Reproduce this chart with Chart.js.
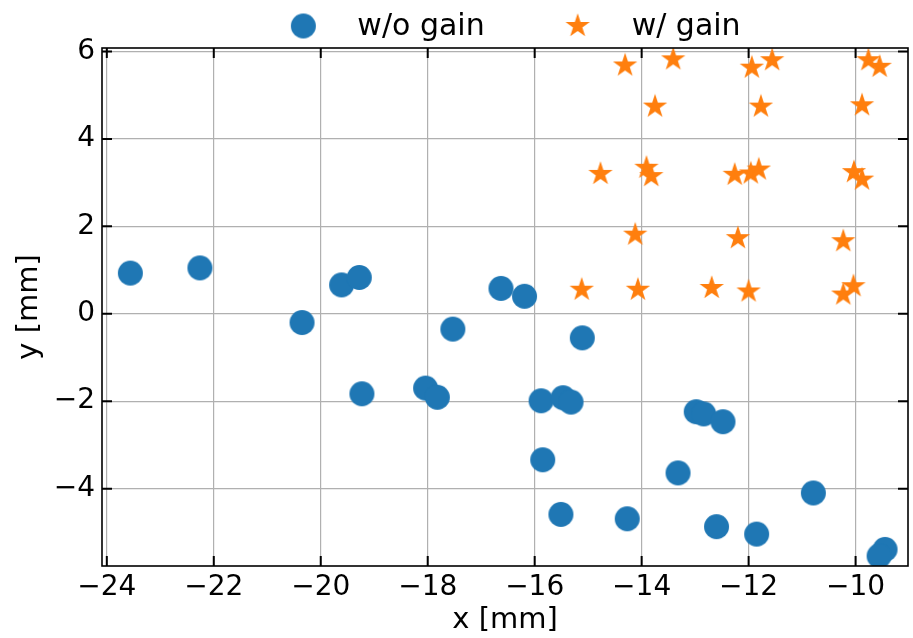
<!DOCTYPE html>
<html>
<head>
<meta charset="utf-8">
<script src="https://cdn.jsdelivr.net/npm/chart.js@4.4.1/dist/chart.umd.min.js"></script>
<style>
  html, body { margin: 0; padding: 0; background: #fff; }
  #wrap { width: 913px; height: 638px; }
</style>
</head>
<body>
<div id="wrap"><canvas id="chart" width="913" height="638"></canvas></div>
<script>
// values
var noGainX = [-23.56, -22.26, -20.35, -19.61, -19.28, -19.23, -18.04, -17.82, -17.53,
               -16.63, -16.19, -15.11, -15.88, -15.47, -15.32, -15.85, -15.51, -14.27,
               -13.32, -12.98, -12.84, -12.48, -12.60, -11.85, -10.79, -9.45, -9.56];
var noGainY = [0.93, 1.05, -0.20, 0.66, 0.83, -1.83, -1.70, -1.91, -0.35,
               0.58, 0.40, -0.55, -1.99, -1.92, -2.02, -3.34, -4.59, -4.69,
               -3.64, -2.24, -2.29, -2.47, -4.87, -5.04, -4.10, -5.39, -5.54];

var gainX = [-14.31, -13.41, -11.94, -11.56, -9.76, -9.55, -13.75, -11.77, -9.88,
             -14.77, -13.91, -13.82, -12.26, -11.96, -11.81, -10.03, -9.88,
             -14.12, -12.20, -10.23, -15.12, -14.07, -12.69, -12.00, -10.23, -10.04];
var gainY = [5.68, 5.82, 5.63, 5.80, 5.80, 5.65, 4.74, 4.74, 4.77,
             3.20, 3.34, 3.15, 3.18, 3.21, 3.30, 3.24, 3.07,
             1.81, 1.73, 1.66, 0.55, 0.55, 0.59, 0.51, 0.44, 0.63];

var seriesNames = ['w/o gain', 'w/ gain'];
var seriesColors = ['#1f77b4', '#ff7f0e'];

var xTicks = [-24, -22, -20, -18, -16, -14, -12, -10];
var yTicks = [-4, -2, 0, 2, 4, 6];

var FONT = "'DejaVu Sans', sans-serif";

function toPoints(xs, ys) {
    return xs.map(function (x, i) { return { x: x, y: ys[i] }; });
}

function fmt(v) {
    return v < 0 ? '\u2212' + Math.abs(v) : String(v);
}

// matplotlib style markers as small canvases
function circleMarker(r, color) {
    var c = document.createElement('canvas');
    c.width = c.height = Math.ceil(2 * r + 2);
    var ctx = c.getContext('2d');
    ctx.fillStyle = color;
    ctx.beginPath();
    ctx.arc(c.width / 2, c.height / 2, r, 0, Math.PI * 2);
    ctx.fill();
    return c;
}

function starMarker(R, color) {
    var c = document.createElement('canvas');
    c.width = c.height = Math.ceil(2 * R + 2);
    var ctx = c.getContext('2d');
    var cx = c.width / 2, cy = c.height / 2, inner = R * 0.381966;
    ctx.fillStyle = color;
    ctx.beginPath();
    for (var i = 0; i < 10; i++) {
        var a = -Math.PI / 2 + i * Math.PI / 5;
        var rr = i % 2 ? inner : R;
        ctx.lineTo(cx + rr * Math.cos(a), cy + rr * Math.sin(a));
    }
    ctx.closePath();
    ctx.fill();
    return c;
}

var markers = [circleMarker(12.5, seriesColors[0]), starMarker(12.8, seriesColors[1])];

// spines and inward ticks on all four sides
var framePlugin = {
    id: 'frame',
    afterDraw: function (chart) {
        var ctx = chart.ctx, a = chart.chartArea;
        var xs = chart.scales.x, ys = chart.scales.y;
        ctx.save();
        ctx.strokeStyle = '#000';
        ctx.lineWidth = 1.6;
        ctx.strokeRect(a.left, a.top, a.right - a.left, a.bottom - a.top);
        ctx.lineWidth = 2;
        ctx.beginPath();
        xTicks.forEach(function (v) {
            var p = xs.getPixelForValue(v);
            ctx.moveTo(p, a.bottom); ctx.lineTo(p, a.bottom - 10);
            ctx.moveTo(p, a.top); ctx.lineTo(p, a.top + 10);
        });
        yTicks.forEach(function (v) {
            var p = ys.getPixelForValue(v);
            ctx.moveTo(a.left, p); ctx.lineTo(a.left + 10, p);
            ctx.moveTo(a.right, p); ctx.lineTo(a.right - 10, p);
        });
        ctx.stroke();
        ctx.restore();
    }
};

// legend laid out like matplotlib's: handle, pad, text, column spacing
var legendPlugin = {
    id: 'topLegend',
    afterDraw: function (chart) {
        var ctx = chart.ctx, a = chart.chartArea;
        var fs = 30, handle = 2 * fs, pad = 0.8 * fs, gap = 2.1 * fs, cy = 26;
        ctx.save();
        ctx.font = fs + 'px ' + FONT;
        var widths = chart.data.datasets.map(function (d) { return ctx.measureText(d.label).width; });
        var total = 0;
        widths.forEach(function (w, i) { total += handle + pad + w + (i ? gap : 0); });
        var x = (a.left + a.right) / 2 - total / 2 + 2;
        ctx.textBaseline = 'middle';
        ctx.fillStyle = '#000';
        chart.data.datasets.forEach(function (d, i) {
            var m = d.pointStyle;
            ctx.drawImage(m, x + handle / 2 - m.width / 2, cy - m.height / 2);
            ctx.fillText(d.label, x + handle + pad, cy + 1);
            x += handle + pad + widths[i] + gap;
        });
        ctx.restore();
    }
};

new Chart(document.getElementById('chart'), {
    type: 'scatter',
    data: {
        datasets: [0, 1].map(function (i) {
            return {
                label: seriesNames[i],
                data: i ? toPoints(gainX, gainY) : toPoints(noGainX, noGainY),
                pointStyle: markers[i],
                backgroundColor: seriesColors[i],
                borderColor: seriesColors[i],
                clip: 0
            };
        })
    },
    options: {
        responsive: false,
        animation: false,
        devicePixelRatio: 1,
        layout: { padding: { top: 48, right: 2, left: 0, bottom: 0 } },
        plugins: { legend: { display: false }, tooltip: { enabled: false } },
        scales: {
            x: {
                type: 'linear',
                min: -24.09,
                max: -9.02,
                afterBuildTicks: function (s) { s.ticks = xTicks.map(function (v) { return { value: v }; }); },
                afterFit: function (s) { s.height = 72; },
                grid: { color: '#b0b0b0', lineWidth: 1.2, drawTicks: false },
                border: { display: false },
                ticks: { color: '#000', padding: 5, font: { family: FONT, size: 28 }, callback: fmt, maxRotation: 0 },
                title: { display: true, text: 'x [mm]', color: '#000', font: { family: FONT, size: 29 }, padding: 0 }
            },
            y: {
                type: 'linear',
                min: -5.77,
                max: 6.08,
                afterBuildTicks: function (s) { s.ticks = yTicks.map(function (v) { return { value: v }; }); },
                afterFit: function (s) { s.width = 102; },
                grid: { color: '#b0b0b0', lineWidth: 1.2, drawTicks: false },
                border: { display: false },
                ticks: { color: '#000', padding: 7, font: { family: FONT, size: 28 }, callback: fmt },
                title: { display: true, text: 'y [mm]', color: '#000', font: { family: FONT, size: 29 }, padding: { top: 12 } }
            }
        }
    },
    plugins: [framePlugin, legendPlugin]
});
</script>
</body>
</html>
